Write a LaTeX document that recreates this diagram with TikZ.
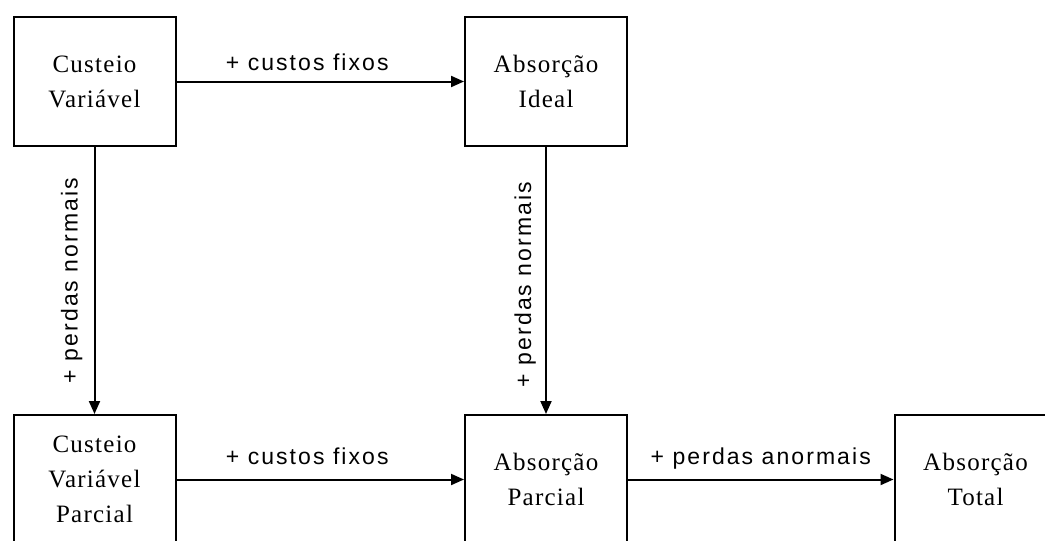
\documentclass[tikz,border=0pt]{standalone}
\usepackage{fontspec}
\setmainfont{Liberation Serif}[LetterSpace=5]
\newfontfamily\lblfont{Liberation Sans}[LetterSpace=9]
\usetikzlibrary{arrows.meta,calc}
\begin{document}
\begin{tikzpicture}[x=1pt,y=-1pt,
  box/.style={draw, line width=2pt, minimum width=162pt, minimum height=129pt,
    inner sep=0pt, align=center, font=\fontsize{25}{35}\selectfont},
  arr/.style={line width=2pt, -{Triangle[length=13pt,width=11pt]}},
  lbl/.style={font=\lblfont\fontsize{23}{28}\selectfont, inner sep=0pt}]
\useasboundingbox (0,0) rectangle (1045,541);
\clip (0,0) rectangle (1045,541);
\node[box] (cv)  at (94.5,81.5)  {Custeio\\Variável};
\node[box] (ai)  at (546,81.5)   {Absorção\\Ideal};
\node[box] (cvp) at (94.5,479.5) {Custeio\\Variável\\Parcial};
\node[box] (ap)  at (546,479.5)  {Absorção\\Parcial};
\node[box] (at)  at (975.5,479.5) {Absorção\\Total};
\draw[arr] (cv) -- (ai);
\draw[arr] (cvp) -- (ap);
\draw[arr] (ap) -- (at);
\draw[arr] (cv) -- (cvp);
\draw[arr] (ai) -- (ap);
\node[lbl, anchor=base] (l1) at ($(cv.east)!0.5!(ai.west)+(-13,-11)$) {+ custos fixos};
\node[lbl, anchor=base] (l2) at ($(cvp.east)!0.5!(ap.west)+(-13,-15)$) {+ custos fixos};
\node[lbl, anchor=base] (l3) at ($(ap.east)!0.5!(at.west)+(0,-15)$) {+ perdas anormais};
\node[lbl, anchor=south, rotate=90] (l4) at ($(cv.south)!0.5!(cvp.north)+(-12,0)$) {+ perdas normais};
\node[lbl, anchor=south, rotate=90] (l5) at ($(ai.south)!0.5!(ap.north)+(-10,4)$) {+ perdas normais};
\end{tikzpicture}
\end{document}
